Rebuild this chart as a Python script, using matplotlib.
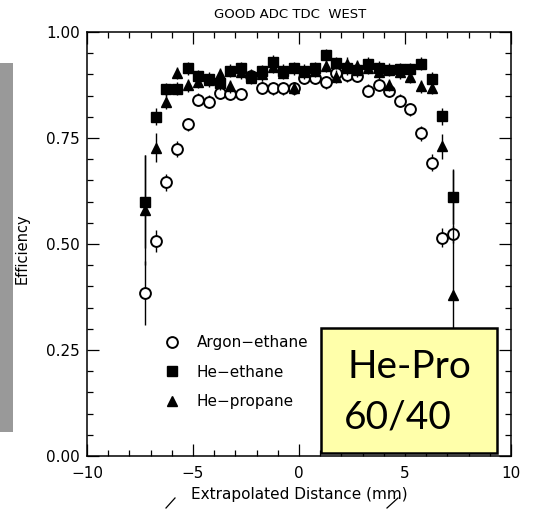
import matplotlib
matplotlib.use("Agg")
import matplotlib.pyplot as plt
from matplotlib.ticker import MultipleLocator, FormatStrFormatter
from matplotlib.patches import Rectangle
from matplotlib.lines import Line2D

# ---- data ----
distance = [-7.25, -6.75, -6.25, -5.75, -5.25, -4.75, -4.25, -3.75, -3.25, -2.75,
            -2.25, -1.75, -1.25, -0.75, -0.25, 0.25, 0.75, 1.25, 1.75, 2.25,
            2.75, 3.25, 3.75, 4.25, 4.75, 5.25, 5.75, 6.25, 6.75, 7.25]

argon_ethane = [0.384, 0.507, 0.646, 0.724, 0.782, 0.840, 0.836, 0.857, 0.854, 0.854,
                0.897, 0.869, 0.867, 0.867, 0.867, 0.892, 0.892, 0.881, 0.904, 0.898,
                0.897, 0.862, 0.875, 0.861, 0.838, 0.818, 0.761, 0.692, 0.515, 0.523]
argon_err = [0.075, 0.025, 0.02, 0.018, 0.015, 0.015, 0.015, 0.015, 0.015, 0.015,
             0.015, 0.015, 0.015, 0.015, 0.015, 0.015, 0.015, 0.015, 0.015, 0.015,
             0.015, 0.015, 0.015, 0.015, 0.015, 0.015, 0.018, 0.02, 0.022, 0.02]

he_ethane = [0.600, 0.800, 0.865, 0.866, 0.914, 0.896, 0.890, 0.879, 0.909, 0.914,
             0.894, 0.908, 0.930, 0.909, 0.914, 0.909, 0.914, 0.946, 0.927, 0.914,
             0.910, 0.925, 0.916, 0.911, 0.913, 0.913, 0.925, 0.890, 0.801, 0.611]
ethane_err = [0.11, 0.02, 0.015, 0.015, 0.015, 0.015, 0.015, 0.015, 0.015, 0.015,
              0.015, 0.015, 0.015, 0.015, 0.015, 0.015, 0.015, 0.015, 0.015, 0.015,
              0.015, 0.015, 0.015, 0.015, 0.015, 0.015, 0.015, 0.015, 0.02, 0.065]

he_propane = [0.580, 0.727, 0.836, 0.903, 0.874, 0.882, 0.886, 0.901, 0.872, 0.905,
              0.892, 0.900, 0.918, 0.903, 0.868, 0.905, 0.908, 0.920, 0.895, 0.925,
              0.920, 0.915, 0.905, 0.875, 0.905, 0.895, 0.872, 0.868, 0.730, 0.380]
propane_err = [0.13, 0.034, 0.018, 0.015, 0.015, 0.015, 0.015, 0.015, 0.015, 0.015,
               0.015, 0.015, 0.015, 0.015, 0.015, 0.015, 0.015, 0.015, 0.015, 0.015,
               0.015, 0.015, 0.015, 0.015, 0.015, 0.015, 0.015, 0.015, 0.03, 0.295]

series_labels = ["Argon\u2212ethane", "He\u2212ethane", "He\u2212propane"]
title_text = "GOOD ADC TDC  WEST"
xlabel_text = "Extrapolated Distance (mm)"
ylabel_text = "Efficiency"
box_lines = ["He-Pro", "60/40"]

# ---- figure ----
W, H = 542, 509
fig = plt.figure(figsize=(W / 100, H / 100), dpi=100)
fig.patch.set_facecolor("white")

def fx(px):
    return px / W

def fy(py):
    return 1 - py / H

ax_l, ax_r, ax_t, ax_b = 87, 511, 32, 456
ax = fig.add_axes([fx(ax_l), fy(ax_b), (ax_r - ax_l) / W, (ax_b - ax_t) / H])

ms = 7.8
styles = [dict(marker="o", ms=ms, mfc="white", mec="black", mew=1.4),
          dict(marker="s", ms=ms * 0.92, mfc="black", mec="black", mew=1.0),
          dict(marker="^", ms=ms, mfc="black", mec="black", mew=1.0)]
common = dict(linestyle="none", ecolor="black", elinewidth=1.0, capsize=0)
ax.errorbar(distance, argon_ethane, yerr=argon_err, zorder=3, **styles[0], **common)
ax.errorbar(distance, he_ethane, yerr=ethane_err, zorder=4, **styles[1], **common)
ax.errorbar(distance, he_propane, yerr=propane_err, zorder=5, **styles[2], **common)

ax.set_xlim(-10, 10)
ax.set_ylim(0, 1)
ax.xaxis.set_major_locator(MultipleLocator(5))
ax.xaxis.set_minor_locator(MultipleLocator(1))
ax.yaxis.set_major_locator(MultipleLocator(0.25))
ax.yaxis.set_minor_locator(MultipleLocator(0.05))
ax.yaxis.set_major_formatter(FormatStrFormatter("%.2f"))
ax.tick_params(which="both", direction="in", top=True, right=True, width=0.9,
               labelsize=11, colors="black")
ax.tick_params(which="major", length=8.5)
ax.tick_params(which="minor", length=4)
ax.tick_params(axis="x", which="major", pad=7)
ax.tick_params(axis="y", which="major", pad=5)
for s in ax.spines.values():
    s.set_linewidth(1.1)

ax.set_xlabel(xlabel_text, fontsize=11)
ax.xaxis.set_label_coords(0.5, -0.09)
ax.xaxis.label.set_va("center")
ax.set_ylabel(ylabel_text, fontsize=10.5)
ax.yaxis.set_label_coords((22 - ax_l) / (ax_r - ax_l), 0.49)
ax.yaxis.label.set_va("center")

fig.text(fx(290), fy(14), title_text, ha="center", va="center", fontsize=9.5)

handles = [Line2D([], [], linestyle="none", **st) for st in styles]
leg = ax.legend(handles, series_labels, loc="upper left",
                bbox_to_anchor=(fx(164), fy(335)),
                bbox_transform=fig.transFigure, frameon=False, fontsize=11,
                handlelength=1.0, handletextpad=1.15, labelspacing=0.95,
                borderpad=0, borderaxespad=0)

# gray bar at left edge
fig.patches.append(Rectangle((0, fy(432)), fx(13), fy(63) - fy(432),
                             transform=fig.transFigure, facecolor="#999999",
                             edgecolor="none", zorder=0))

# yellow annotation box
fig.patches.append(Rectangle((fx(321), fy(453)), fx(497) - fx(321), fy(328) - fy(453),
                             transform=fig.transFigure, facecolor="#FFFFAA",
                             edgecolor="black", linewidth=1.8, zorder=10))
fig.text(fx(409), fy(367), box_lines[0], ha="center", va="center", fontsize=28,
         family="Lato", zorder=11)
fig.text(fx(398), fy(418), box_lines[1], ha="center", va="center", fontsize=28,
         family="Lato", zorder=11)

# small stray slash marks below the axis
for (x0, y0, x1, y1) in [(166, 508, 175, 498), (387, 508, 398, 498)]:
    fig.lines.append(Line2D([fx(x0), fx(x1)], [fy(y0), fy(y1)],
                            transform=fig.transFigure, color="black", lw=0.9))

fig.savefig("out.png", dpi=100)
